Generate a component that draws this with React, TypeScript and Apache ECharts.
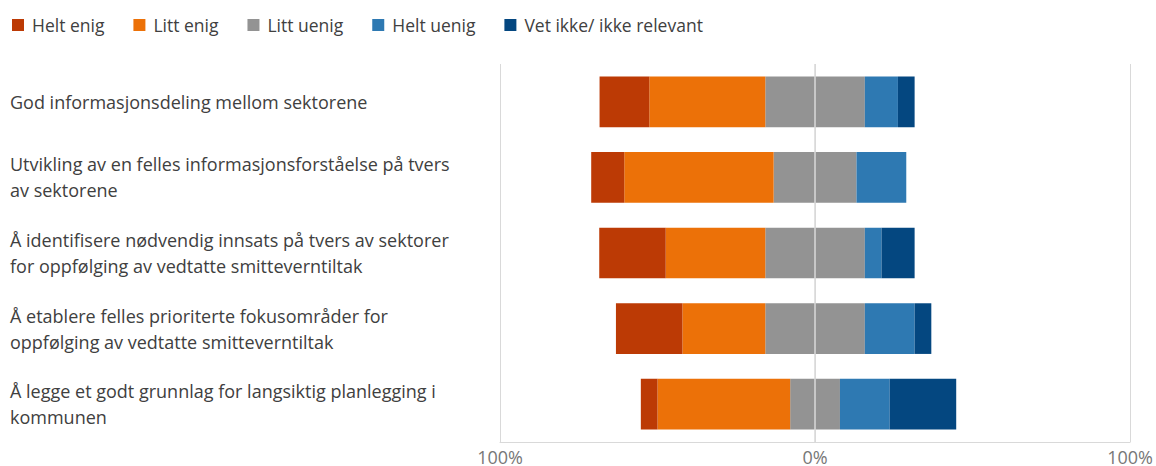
import React, { useEffect, useRef } from "react";
import * as echarts from "echarts";

const categories = [
  "God informasjonsdeling mellom sektorene",
  "Utvikling av en felles informasjonsforståelse på tvers av sektorene",
  "Å identifisere nødvendig innsats på tvers av sektorer for oppfølging av vedtatte smitteverntiltak",
  "Å etablere felles prioriterte fokusområder for oppfølging av vedtatte smitteverntiltak",
  "Å legge et godt grunnlag for langsiktig planlegging i kommunen",
];
const heltEnig = [15.8, 10.5, 21.1, 21.1, 5.3];
const littEnig = [36.8, 47.4, 31.6, 26.3, 42.1];
const littUenig = [31.6, 26.3, 31.6, 31.6, 15.8];
const heltUenig = [10.5, 15.8, 5.3, 15.8, 15.8];
const vetIkke = [5.3, 0, 10.5, 5.3, 21.1];
const legendNames = ["Helt enig", "Litt enig", "Litt uenig", "Helt uenig", "Vet ikke/ ikke relevant"];
const colors = ["#BC3A05", "#EC7108", "#939393", "#2E79B2", "#044780"];

const FONT = "'Segoe UI', 'Open Sans', 'Noto Sans', sans-serif";

export default function App() {
  const ref = useRef<HTMLDivElement>(null);
  useEffect(() => {
    if (!ref.current) return;
    const chart = echarts.init(ref.current, null, { renderer: "svg" });
    const barBase = { type: "bar", stack: "total", barWidth: "67%" };
    chart.setOption({
      animation: false,
      textStyle: { fontFamily: FONT },
      legend: {
        data: legendNames.map((n, i) => ({ name: n, itemStyle: { color: colors[i] } })),
        left: 7,
        top: 11,
        itemWidth: 12,
        itemHeight: 12,
        itemGap: 29,
        icon: "rect",
        textStyle: { fontSize: 17.5, color: "#404040", fontFamily: FONT, padding: [0, 0, 0, 3] },
      },
      grid: { left: 500, right: 25, top: 64, height: 380, containLabel: false },
      xAxis: {
        type: "value",
        min: -100,
        max: 100,
        interval: 100,
        axisLine: { show: true, lineStyle: { color: "#D9D9D9", width: 1 } },
        axisTick: { show: false },
        splitLine: { show: true, lineStyle: { color: "#D9D9D9", width: 1 } },
        axisLabel: {
          color: "#777777",
          fontSize: 18,
          margin: 6,
          formatter: (v: number) => Math.abs(v) + "%",
        },
      },
      yAxis: {
        type: "category",
        data: categories,
        inverse: true,
        axisLine: { show: false },
        axisTick: { show: false },
        axisLabel: {
          align: "left",
          margin: 490,
          width: 470,
          overflow: "break",
          fontSize: 18,
          lineHeight: 26,
          color: "#404040",
        },
      },
      series: [
        { ...barBase, name: "Litt uenig", data: littUenig.map((v) => -v / 2), itemStyle: { color: colors[2] } },
        { ...barBase, name: "Litt enig", data: littEnig.map((v) => -v), itemStyle: { color: colors[1] } },
        { ...barBase, name: "Helt enig", data: heltEnig.map((v) => -v), itemStyle: { color: colors[0] } },
        {
          ...barBase,
          name: "Litt uenig",
          data: littUenig.map((v) => v / 2),
          itemStyle: { color: colors[2] },
          markLine: {
            silent: true,
            symbol: "none",
            label: { show: false },
            lineStyle: { color: "#D9D9D9", width: 1.5, type: "solid" },
            data: [{ xAxis: 0 }],
            z: 10,
          },
        },
        { ...barBase, name: "Helt uenig", data: heltUenig, itemStyle: { color: colors[3] } },
        { ...barBase, name: "Vet ikke/ ikke relevant", data: vetIkke, itemStyle: { color: colors[4] } },
      ],
    });
    return () => chart.dispose();
  }, []);
  return (
    <div
      ref={ref}
      style={{ position: "fixed", left: 0, top: 0, width: 1156, height: 466, background: "#fff" }}
    />
  );
}
